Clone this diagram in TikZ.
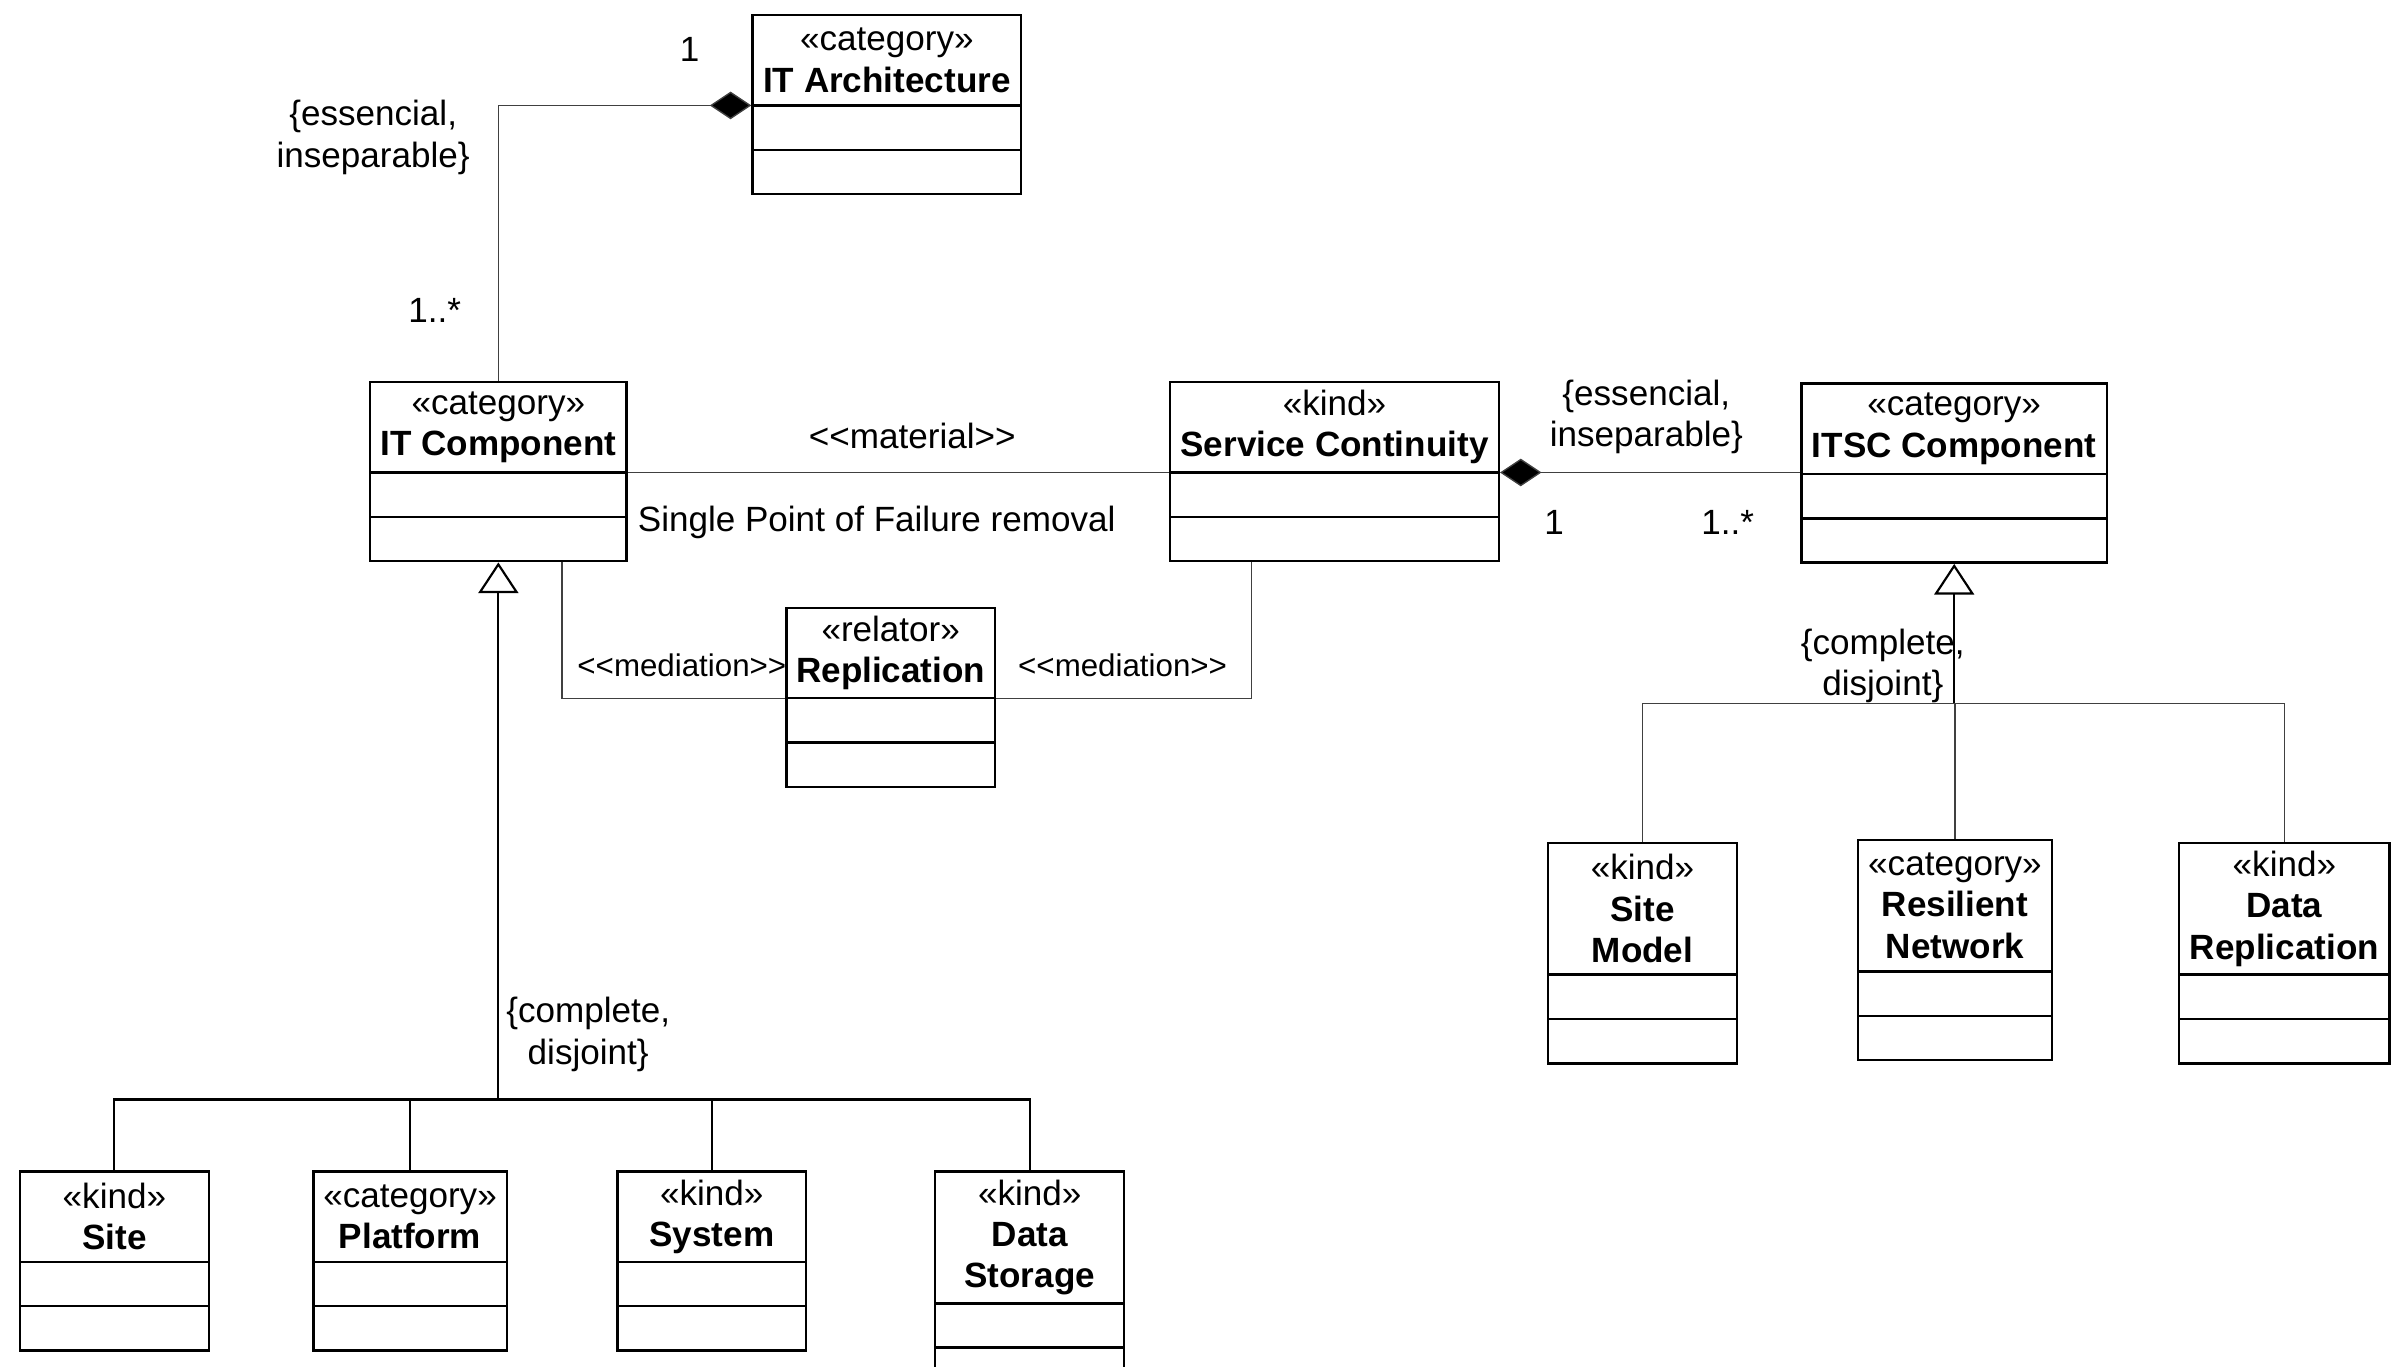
\documentclass[tikz,border=0pt]{standalone}
\usepackage{fontspec}
\setmainfont{Liberation Sans}
\usetikzlibrary{shapes.multipart,arrows.meta}
\newcommand{\ltlt}{<\kern0pt<}
\newcommand{\gtgt}{>\kern0pt>}
\newcommand{\clsparts}[5]{\parbox[c][#2][c]{#1}{\centering #3\\\textbf{#4}}\nodepart{two}\parbox[c][#5]{#1}{\null}\nodepart{three}\parbox[c][#5]{#1}{\null}}
\begin{document}
\begin{tikzpicture}[x=0.02cm,y=-0.02cm,
    every node/.style={font=\fontsize{13}{15.3}\selectfont},
    cls/.style={rectangle split,rectangle split parts=3,draw,line width=0.9pt,inner sep=0pt,anchor=north},
    lbl/.style={align=center,inner sep=0pt},
    medlbl/.style={lbl,font=\fontsize{11.6}{14}\selectfont},
    assoc/.style={line width=0.5pt,draw=black!75},
    comp/.style={assoc,-{Diamond[fill=black,length=0.54cm,width=0.36cm]}},
    gen/.style={line width=0.8pt},
    genarrow/.style={gen,-{Triangle[open,length=0.4cm,width=0.52cm]}}]
    \useasboundingbox (0,0) rectangle (1568,889.5);

    \node[cls] (itarch) at (577.5,9) {\clsparts{3.5cm}{1.146cm}{«category»}{IT Architecture}{0.546cm}};
    \node[cls] (itcomp) at (324.5,248) {\clsparts{3.34cm}{1.146cm}{«category»}{IT Component}{0.546cm}};
    \node[cls] (sc) at (869,248) {\clsparts{4.28cm}{1.146cm}{«kind»}{Service Continuity}{0.546cm}};
    \node[cls] (itsc) at (1272.5,249) {\clsparts{3.98cm}{1.146cm}{«category»}{ITSC Component}{0.546cm}};
    \node[cls] (repl) at (580,395) {\clsparts{2.72cm}{1.146cm}{«relator»}{Replication}{0.546cm}};

    \node[cls] (site) at (74.5,762) {\clsparts{2.46cm}{1.146cm}{«kind»}{Site}{0.546cm}};
    \node[cls] (platform) at (267,762) {\clsparts{2.52cm}{1.146cm}{«category»}{Platform}{0.546cm}};
    \node[cls] (system) at (463.5,762) {\clsparts{2.46cm}{1.146cm}{«kind»}{System}{0.546cm}};
    \node[cls] (dstore) at (670.5,762) {\clsparts{2.46cm}{1.686cm}{«kind»}{Data\\Storage}{0.546cm}};

    \node[cls] (sitemodel) at (1069.5,548) {\clsparts{2.46cm}{1.686cm}{«kind»}{Site\\Model}{0.546cm}};
    \node[cls] (resnet) at (1273,546) {\clsparts{2.52cm}{1.686cm}{«category»}{Resilient\\Network}{0.546cm}};
    \node[cls] (datarep) at (1487.5,548) {\clsparts{2.74cm}{1.686cm}{«kind»}{Data\\Replication}{0.546cm}};

    \draw[comp] (itcomp.north) |- (itarch.text split west);
    \node[lbl] (archone) at (449,32) {1};
    \node[lbl] (archcons) at (243,89.5) {\{essencial,\\inseparable\}};
    \node[lbl] (archmany) at (283,202) {1..*};

    \draw[assoc] (itcomp.text split east) -- (sc.text split west);
    \node[lbl] (matlbl) at (594,284) {\ltlt material\gtgt};
    \node[lbl,anchor=west] (spof) at (415,340) {Single Point of Failure removal};

    \draw[assoc] (itcomp.south) ++(41.5,0) |- (repl.text split west);
    \draw[assoc] (sc.south) ++(-54,0) |- (repl.text split east);
    \node[medlbl] (medleft) at (444,433) {\ltlt mediation\gtgt};
    \node[medlbl] (medright) at (731,433) {\ltlt mediation\gtgt};

    \draw[comp] (sc.text split east -| itsc.west) -- (sc.text split east);
    \node[lbl] (sccons) at (1072,271.5) {\{essencial,\\inseparable\}};
    \node[lbl] (scone) at (1012,340) {1};
    \node[lbl] (scmany) at (1125,340) {1..*};

    \coordinate (itgen) at (324.5,716);
    \draw[gen] (site.north) |- (itgen);
    \draw[gen] (platform.north) |- (itgen);
    \draw[gen] (system.north) |- (itgen);
    \draw[gen] (dstore.north) |- (itgen);
    \draw[genarrow] (itgen) -- (itcomp.south);
    \node[lbl] (itgencons) at (383,673.5) {\{complete,\\disjoint\}};

    \coordinate (itscgen) at (1272.5,458);
    \draw[assoc] (sitemodel.north) |- (itscgen);
    \draw[assoc] (resnet.north) |- (itscgen);
    \draw[assoc] (datarep.north) |- (itscgen);
    \draw[genarrow] (itscgen) -- (itsc.south);
    \node[lbl] (itscgencons) at (1226,433.5) {\{complete,\\disjoint\}};
\end{tikzpicture}
\end{document}
